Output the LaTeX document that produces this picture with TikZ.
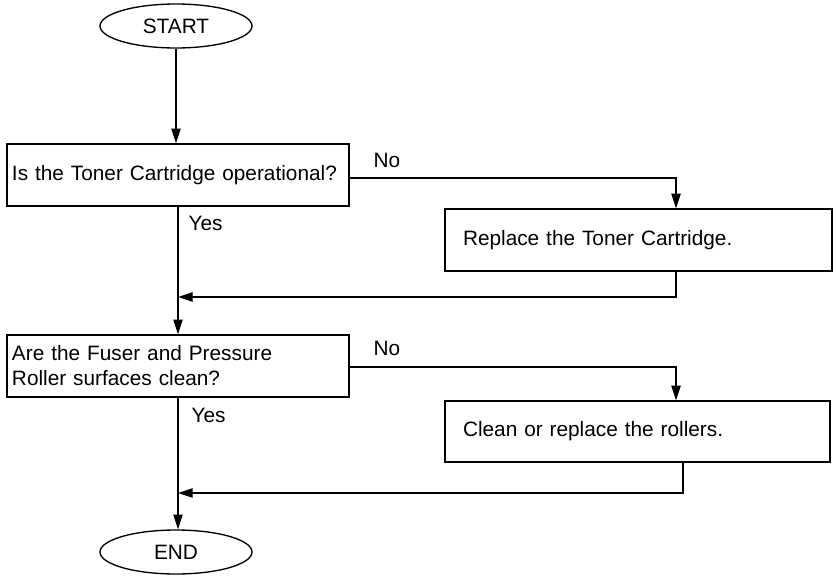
\documentclass[tikz,border=0pt]{standalone}
\usepackage{fontspec}
\setmainfont{Liberation Sans}
\usetikzlibrary{shapes.geometric,arrows.meta,calc}

\tikzset{every picture/.style={line width=1pt}}
\tikzset{
	arr/.style={-{Triangle[length=11pt,width=7pt]}},
	term/.style={draw,ellipse,minimum width=114pt,minimum height=33pt,inner sep=0pt},
	qbox/.style={draw,rectangle,minimum height=46.5pt,inner xsep=3.75pt,inner ysep=0pt,text width=249pt,align=left},
	fixbox/.style={draw,rectangle,minimum height=46.5pt,inner xsep=13.5pt,inner ysep=0pt,align=left},
	lbl/.style={anchor=west,inner sep=0.75pt}
}

\begin{document}
\begin{tikzpicture}[x=0.75pt,y=0.75pt,yscale=-1,xscale=1,font=\fontsize{15.6pt}{18.8pt}\selectfont]
		\useasboundingbox (0,0) rectangle (836,578);
		
		%Shape: Ellipse
		\node [term] (start) at (176,26) {START};
		%Shape: Rectangle
		\node [qbox] (q1) at (178,175) {Is the Toner Cartridge operational?};
		%Shape: Rectangle
		\node [fixbox,text width=263.25pt] (fix1) at (638.5,240) {Replace the Toner Cartridge.};
		%Shape: Rectangle
		\node [qbox] (q2) at (178,366) {Are the Fuser and Pressure\\Roller surfaces clean?};
		%Shape: Rectangle
		\node [fixbox,text width=261.75pt,minimum height=45.75pt] (fix2) at (637.5,431.5) {Clean or replace the rollers.};
		%Shape: Ellipse
		\node [term] (end) at (176,552) {END};
		
		% bends of the connectors
		\coordinate (n1) at (676,178);
		\coordinate (r1) at (178,297);
		\coordinate (n2) at (676,367);
		\coordinate (s2) at (683,493);
		\coordinate (r2) at (178,493);
		
		%Straight Lines
		\draw [arr] (start.south) -- (start.south |- q1.north);
		%Straight Lines
		\draw [arr] (q1.east |- n1) -- (n1) -- (n1 |- fix1.north);
		%Straight Lines
		\draw [arr] (n1 |- fix1.south) -- (n1 |- r1) -- (r1);
		%Straight Lines
		\draw [arr] (q1.south) -- (q2.north);
		%Straight Lines
		\draw [arr] (q2.east |- n2) -- (n2) -- (n2 |- fix2.north);
		%Straight Lines
		\draw [arr] (s2 |- fix2.south) -- (s2) -- (r2);
		%Straight Lines
		\draw [arr] (q2.south) -- (q2.south |- end.north);
		
		% Text Node
		\node [lbl] (no1) at (372,160) {No};
		% Text Node
		\node [lbl] (yes1) at (187,223) {Yes};
		% Text Node
		\node [lbl] (no2) at (372,348) {No};
		% Text Node
		\node [lbl] (yes2) at (190,415) {Yes};
		
\end{tikzpicture}
\end{document}
